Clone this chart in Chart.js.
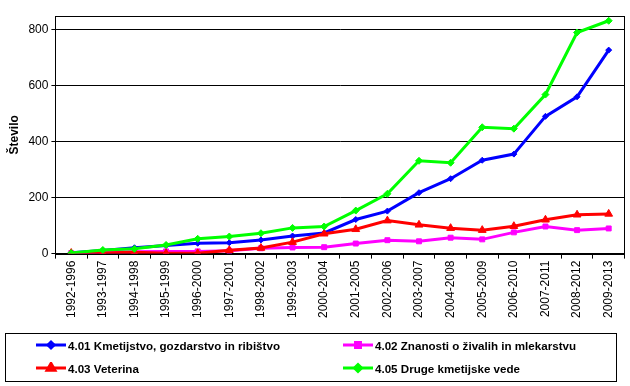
<!DOCTYPE html>
<html>
<head>
<meta charset="utf-8">
<script src="https://cdn.jsdelivr.net/npm/chart.js@4/dist/chart.umd.min.js"></script>
<style>
  body { margin: 0; background: #fff; }
  #wrap { position: relative; width: 630px; height: 386px; }
  #legend {
    position: absolute; left: 5px; top: 333px; width: 612px; height: 49px;
    border: 1px solid #000; box-sizing: border-box;
    font-family: "Liberation Sans", Arial, sans-serif; font-size: 11.6px; font-weight: bold; color: #000;
  }
  .item { position: absolute; display: flex; align-items: center; height: 14px; }
  .item canvas { margin-right: 2px; }
</style>
</head>
<body>
<div id="wrap">
  <canvas id="chart" width="630" height="386"></canvas>
  <div id="legend"></div>
</div>
<script>
// kategorije (obdobja)
const periods = ["1992-1996", "1993-1997", "1994-1998", "1995-1999", "1996-2000", "1997-2001",
  "1998-2002", "1999-2003", "2000-2004", "2001-2005", "2002-2006", "2003-2007", "2004-2008",
  "2005-2009", "2006-2010", "2007-2011", "2008-2012", "2009-2013"];

// vrednosti po serijah
const kmetijstvo = [3, 11, 21, 29, 37, 39, 49, 63, 74, 122, 152, 218, 268, 334, 356, 491, 561, 728];
const zivali = [2, 5, 7, 8, 8, 10, 19, 22, 23, 36, 48, 44, 57, 51, 76, 97, 84, 90];
const veterina = [2, 2, 5, 1, 1, 12, 20, 41, 71, 87, 118, 103, 91, 84, 98, 121, 139, 142];
const druge = [2, 13, 17, 31, 53, 61, 73, 92, 97, 154, 214, 332, 325, 452, 447, 569, 791, 833];

const yTicks = [0, 200, 400, 600, 800];

const series = [
  { label: "4.01 Kmetijstvo, gozdarstvo in ribištvo", data: kmetijstvo, color: "#0000FF", style: "rectRot", r: 3, order: 4 },
  { label: "4.02 Znanosti o živalih in mlekarstvu", data: zivali, color: "#FF00FF", style: "rect", r: 3.5, order: 3 },
  { label: "4.03 Veterina", data: veterina, color: "#FF0000", style: "triangle", r: 4.5, order: 2 },
  { label: "4.05 Druge kmetijske vede", data: druge, color: "#00FF00", style: "rectRot", r: 3.5, order: 1 },
];

// okvir risalne površine
const frame = {
  id: 'frame',
  afterDraw(chart) {
    const a = chart.chartArea, c = chart.ctx;
    c.save();
    c.strokeStyle = '#000';
    c.lineWidth = 1;
    c.strokeRect(Math.round(a.left) + 0.5, Math.round(a.top) + 0.5, Math.round(a.right - a.left), Math.round(a.bottom - a.top));
    c.restore();
  }
};

const font = { family: "'Liberation Sans', Arial, sans-serif", size: 12 };

new Chart(document.getElementById('chart'), {
  type: 'line',
  data: {
    labels: periods,
    datasets: series.map(s => ({
      label: s.label,
      data: s.data,
      borderColor: s.color,
      backgroundColor: s.color,
      borderWidth: 3,
      pointStyle: s.style,
      pointRadius: s.r,
      pointBorderWidth: 1,
      tension: 0,
      order: s.order,
    }))
  },
  options: {
    responsive: false,
    animation: false,
    layout: { padding: { left: 3, right: 4, top: 16, bottom: 66 } },
    plugins: { legend: { display: false }, tooltip: { enabled: false } },
    scales: {
      x: {
        offset: true,
        grid: { offset: true, drawOnChartArea: false, drawTicks: true, tickLength: 5, color: '#000' },
        border: { color: '#000' },
        ticks: { color: '#000', font: font, maxRotation: 90, minRotation: 90, autoSkip: false, padding: 2 }
      },
      y: {
        min: 0, max: 850,
        afterBuildTicks(scale) { scale.ticks = yTicks.map(v => ({ value: v })); },
        grid: { color: '#000', tickLength: 4 },
        border: { color: '#000' },
        ticks: { color: '#000', font: font, padding: 3 },
        title: { display: true, text: 'Število', color: '#000', font: { family: font.family, size: 12, weight: 'bold' }, padding: 4 }
      }
    }
  },
  plugins: [frame]
});

// legenda v dveh stolpcih
const legend = document.getElementById('legend');
const pos = [[30, 4], [337, 4], [30, 27], [337, 27]];
series.forEach((s, i) => {
  const it = document.createElement('div');
  it.className = 'item';
  it.style.left = pos[i][0] + 'px';
  it.style.top = pos[i][1] + 'px';
  const sw = document.createElement('canvas');
  sw.width = 30; sw.height = 12;
  const c = sw.getContext('2d');
  c.strokeStyle = s.color; c.lineWidth = 3;
  c.beginPath(); c.moveTo(0, 6); c.lineTo(30, 6); c.stroke();
  c.fillStyle = s.color;
  Chart.helpers.drawPoint(c, { pointStyle: s.style, radius: s.r, borderWidth: 1 }, 15, 6);
  it.appendChild(sw);
  const t = document.createElement('span');
  t.textContent = s.label;
  it.appendChild(t);
  legend.appendChild(it);
});
</script>
</body>
</html>
